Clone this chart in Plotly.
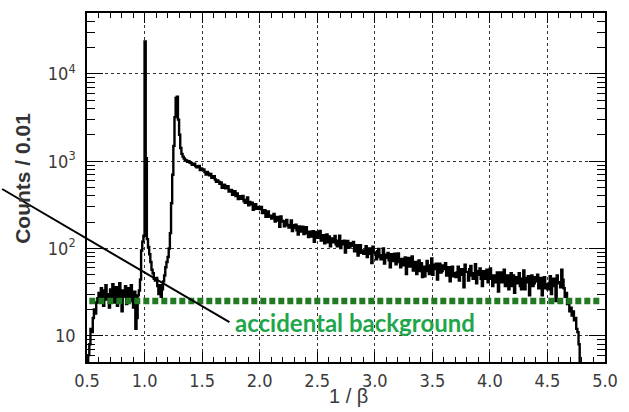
import math
import plotly.graph_objects as go

# Histogram binning: 1/beta from 0.50 upward in steps of 0.01
BIN_START = 0.50
BIN_WIDTH = 0.01

# Counts per bin, grouped in 0.5-wide blocks of 1/beta
counts_050_099 = [
    3, 6, 8, 12, 11, 16, 20, 18, 24, 27,
    31, 24, 35, 28, 22, 33, 38, 26, 30, 21,
    34, 27, 39, 24, 29, 36, 22, 31, 40, 26,
    19, 33, 28, 37, 23, 30, 35, 25, 38, 27,
    21, 32, 12, 16, 29, 33, 44, 95, 120, 140,
]
counts_100_149 = [
    23600, 1080, 128, 104, 86, 70, 57, 52, 45, 43,
    46, 37, 30, 38, 28, 34, 42, 49, 61, 70,
    80, 100, 150, 330, 700, 1500, 3200, 5300, 5480, 3000,
    2010, 1420, 1215, 1128, 1074, 1036, 1022, 987, 1004, 968,
    956, 909, 935, 935, 880, 854, 860, 885, 795, 828,
]
counts_150_199 = [
    796, 806, 750, 706, 752, 725, 689, 714, 648, 655,
    674, 618, 581, 604, 584, 550, 572, 496, 539, 536,
    488, 498, 518, 449, 455, 468, 413, 438, 454, 400,
    427, 368, 396, 397, 370, 401, 350, 333, 359, 384,
    313, 341, 321, 334, 278, 311, 321, 285, 287, 300,
]
counts_200_249 = [
    283, 299, 254, 258, 274, 230, 258, 266, 230, 237,
    221, 231, 248, 203, 229, 230, 209, 177, 233, 208,
    204, 180, 206, 213, 184, 174, 186, 210, 158, 185,
    172, 187, 162, 144, 179, 170, 156, 178, 146, 157,
    175, 149, 135, 156, 151, 137, 158, 119, 151, 155,
]
counts_250_299 = [
    133, 144, 159, 123, 132, 142, 115, 133, 145, 118,
    137, 106, 126, 130, 118, 139, 112, 106, 123, 140,
    101, 121, 112, 123, 90, 113, 122, 102, 105, 115,
    107, 119, 93, 97, 109, 83, 103, 109, 89, 95,
    87, 95, 106, 80, 98, 100, 87, 68, 105, 90,
]
counts_300_349 = [
    90, 75, 93, 99, 80, 75, 84, 100, 67, 85,
    78, 89, 73, 61, 86, 81, 72, 87, 66, 75,
    88, 70, 61, 76, 73, 64, 79, 51, 74, 78,
    62, 69, 81, 56, 63, 70, 51, 65, 73, 55,
    68, 47, 62, 48, 57, 72, 55, 51, 64, 77,
]
counts_350_399 = [
    50, 65, 58, 67, 44, 60, 67, 53, 55, 64,
    58, 68, 49, 52, 61, 42, 58, 62, 48, 52,
    47, 53, 62, 43, 57, 58, 50, 36, 65, 54,
    54, 43, 58, 63, 49, 45, 52, 66, 40, 55,
    50, 59, 45, 37, 55, 52, 45, 57, 41, 47,
]
counts_400_449 = [
    59, 45, 37, 49, 47, 41, 53, 32, 50, 53,
    41, 48, 57, 37, 42, 49, 34, 44, 52, 37,
    49, 31, 44, 47, 40, 52, 37, 34, 45, 56,
    34, 46, 41, 48, 29, 43, 49, 37, 40, 47,
    42, 50, 35, 38, 46, 29, 43, 47, 35, 39,
]
counts_450_479 = [
    34, 40, 48, 30, 43, 45, 37, 25, 49, 40,
    41, 36, 57, 44, 35, 28, 31, 23, 25, 19,
    21, 17, 19, 15, 16, 12, 11, 8, 1,
]

# Flat accidental-coincidence background level (counts / 0.01)
accidental_level = 25
accidental_label = "accidental background"

x_tick_vals = [0.5, 1.0, 1.5, 2.0, 2.5, 3.0, 3.5, 4.0, 4.5, 5.0]
x_tick_text = ["0.5", "1.0", "1.5", "2.0", "2.5", "3.0", "3.5", "4.0", "4.5", "5.0"]
y_tick_vals = [10, 100, 1000, 10000]
y_tick_text = ["10", "10<sup>2</sup>", "10<sup>3</sup>", "10<sup>4</sup>"]

counts = (counts_050_099 + counts_100_149 + counts_150_199 + counts_200_249
          + counts_250_299 + counts_300_349 + counts_350_399 + counts_400_449
          + counts_450_479)
bin_centers = [round(BIN_START + (i + 0.5) * BIN_WIDTH, 4) for i in range(len(counts))]

x_min, x_max = 0.5, 5.0
y_min, y_max = 5, 50000
y_minor = [m * 10 ** e for e in range(0, 5) for m in range(2, 10)
           if y_min <= m * 10 ** e <= y_max]

tick_font = dict(family="Liberation Sans Narrow, Arial Narrow, DejaVu Sans Condensed, sans-serif",
                 size=18, color="#3a3a3a")
grid_color = "#333333"

fig = go.Figure()

fig.add_trace(go.Scatter(
    x=bin_centers, y=counts, mode="lines",
    line=dict(color="black", width=2.4, shape="hvh"),
    showlegend=False, hoverinfo="skip",
))

# Dashed marker of the accidental background level
fig.add_trace(go.Scatter(
    x=[0.52, 4.97], y=[accidental_level, accidental_level], mode="lines",
    line=dict(color="#217a21", width=6.5, dash="6px,3px"),
    showlegend=False, hoverinfo="skip",
))

fig.update_layout(
    width=629, height=412,
    margin=dict(l=87, r=11, t=11, b=50),
    paper_bgcolor="white", plot_bgcolor="white",
    xaxis=dict(
        range=[x_min, x_max], tickmode="array", tickvals=x_tick_vals, ticktext=x_tick_text,
        ticks="inside", ticklen=10, tickwidth=1.2, tickcolor="black",
        minor=dict(ticks="inside", ticklen=5, tickwidth=1.2, tickcolor="black",
                   tick0=0.5, dtick=0.1, showgrid=False),
        showgrid=True, gridcolor=grid_color, gridwidth=1, griddash="dot",
        showline=True, linecolor="black", linewidth=1.5, mirror="allticks",
        zeroline=False, tickfont=tick_font, ticklabelstandoff=2,
    ),
    yaxis=dict(
        type="log", range=[math.log10(y_min), math.log10(y_max)],
        tickmode="array", tickvals=y_tick_vals, ticktext=y_tick_text,
        ticks="inside", ticklen=16, tickwidth=1.2, tickcolor="black",
        minor=dict(ticks="inside", ticklen=8, tickwidth=1.2, tickcolor="black",
                   tickmode="array", tickvals=y_minor, showgrid=False),
        showgrid=True, gridcolor=grid_color, gridwidth=1, griddash="dot",
        showline=True, linecolor="black", linewidth=1.5, mirror="allticks",
        zeroline=False, tickfont=tick_font, ticklabelstandoff=6,
    ),
    annotations=[
        dict(text="Counts / 0.01", xref="paper", yref="paper", x=-0.126, y=0.527,
             xanchor="center", yanchor="middle", textangle=-90, showarrow=False,
             font=dict(family="Liberation Sans, Arial, sans-serif", size=21,
                       color="#333333", weight="bold")),
        dict(text="1 / β", xref="paper", yref="paper", x=0.505, y=-0.097,
             xanchor="center", yanchor="middle", showarrow=False,
             font=dict(family="Liberation Sans Narrow, Arial Narrow, sans-serif",
                       size=20, color="#3a3a3a")),
        dict(text=accidental_label, xref="paper", yref="paper", x=0.2825, y=0.114,
             xanchor="left", yanchor="middle", showarrow=False,
             font=dict(family="Lato, sans-serif", size=24, color="#1fa64a",
                       weight="bold")),
    ],
    shapes=[
        dict(type="line", xref="paper", yref="paper",
             x0=-0.1638, y0=0.4957, x1=0.2750, y1=0.1140,
             line=dict(color="black", width=2), layer="above"),
    ],
)

fig.write_html("out.html")
